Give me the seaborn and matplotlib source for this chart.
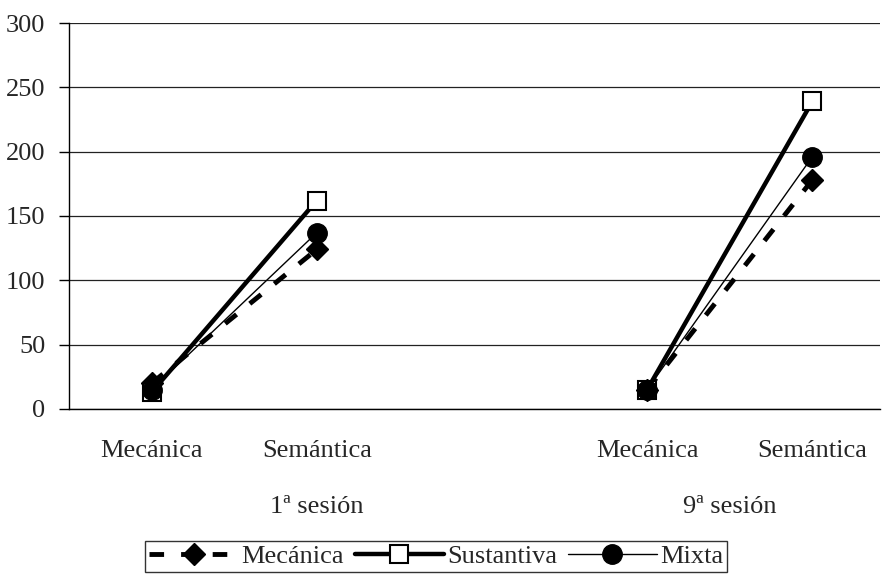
import matplotlib
matplotlib.use("Agg")
import matplotlib.pyplot as plt
import numpy as np
import pandas as pd
import seaborn as sns

# Categories (blank slot separates the two sessions)
categories = ["Mecánica", "Semántica", "", "Mecánica", "Semántica"]
sessions = ["1ª sesión", "9ª sesión"]
session_slots = [[0, 1], [3, 4]]

# Values per series: [1ª Mecánica, 1ª Semántica, 9ª Mecánica, 9ª Semántica]
mecanica = [20, 124, 15, 178]
sustantiva = [13, 162, 15, 239]
mixta = [15, 137, 15, 196]

series_names = ["Mecánica", "Sustantiva", "Mixta"]
series_values = [mecanica, sustantiva, mixta]

rows = []
for name, vals in zip(series_names, series_values):
    i = 0
    for s, slots in zip(sessions, session_slots):
        for slot in slots:
            rows.append({"serie": name, "sesion": s, "pos": slot, "valor": vals[i]})
            i += 1
df = pd.DataFrame(rows)

sns.set_theme(style="white")
plt.rcParams["font.family"] = ["Liberation Serif", "DejaVu Serif"]
FS = 19

styles = {
    "Mecánica": dict(lw=3.5, dashes=(3, 3.5), marker="D", ms=11,
                     mfc="black", mew=1.0),
    "Sustantiva": dict(lw=3.2, dashes=None, marker="s", ms=13,
                       mfc="white", mew=1.5),
    "Mixta": dict(lw=1.0, dashes=None, marker="o", ms=14,
                  mfc="black", mew=1.0),
}

fig = plt.figure(figsize=(8.9, 5.84), dpi=100)
ax = fig.add_axes([0.0775, 0.2997, 0.9113, 0.6609])

handles = []
for name in series_names:
    st = styles[name]
    sub = df[df["serie"] == name]
    for s in sessions:
        part = sub[sub["sesion"] == s]
        sns.lineplot(data=part, x="pos", y="valor", ax=ax, color="black",
                     linewidth=st["lw"], marker=st["marker"], markersize=st["ms"],
                     markerfacecolor=st["mfc"], markeredgecolor="black",
                     markeredgewidth=st["mew"], estimator=None, legend=False)
        line = ax.lines[-1]
        if st["dashes"] is not None:
            line.set_dashes(st["dashes"])
    handles.append(ax.lines[-1])

ax.set_xlim(-0.5, 4.41)
ax.set_ylim(0, 300)
ax.set_yticks(np.arange(0, 301, 50))
ax.set_xticks(range(len(categories)))
ax.set_xticklabels(categories, fontsize=FS)
ax.tick_params(axis="x", length=0, pad=22)
ax.tick_params(axis="y", labelsize=FS, length=7, width=1, color="black",
               direction="out", left=True, pad=10)
ax.set_xlabel("")
ax.set_ylabel("")

ax.yaxis.grid(True, color="#222222", linewidth=0.9)
ax.set_axisbelow(True)
for side in ["top", "right"]:
    ax.spines[side].set_visible(False)
for side in ["left", "bottom"]:
    ax.spines[side].set_color("black")
    ax.spines[side].set_linewidth(1.0)

# Session group labels
group_centers = [1.0, 3.5]
for s, cx in zip(sessions, group_centers):
    ax.text(cx, -0.255, s, transform=ax.get_xaxis_transform(), ha="center",
            va="center", fontsize=FS)

leg = fig.legend(handles, series_names, loc="center", ncol=3,
                 bbox_to_anchor=(0.49, 0.047), fontsize=FS, frameon=True,
                 fancybox=False, edgecolor="black", handlelength=3.4,
                 handletextpad=0.1, columnspacing=0.4, borderpad=0.15)
leg.get_frame().set_linewidth(1.0)

fig.savefig("out.png", dpi=100)
plt.close(fig)
